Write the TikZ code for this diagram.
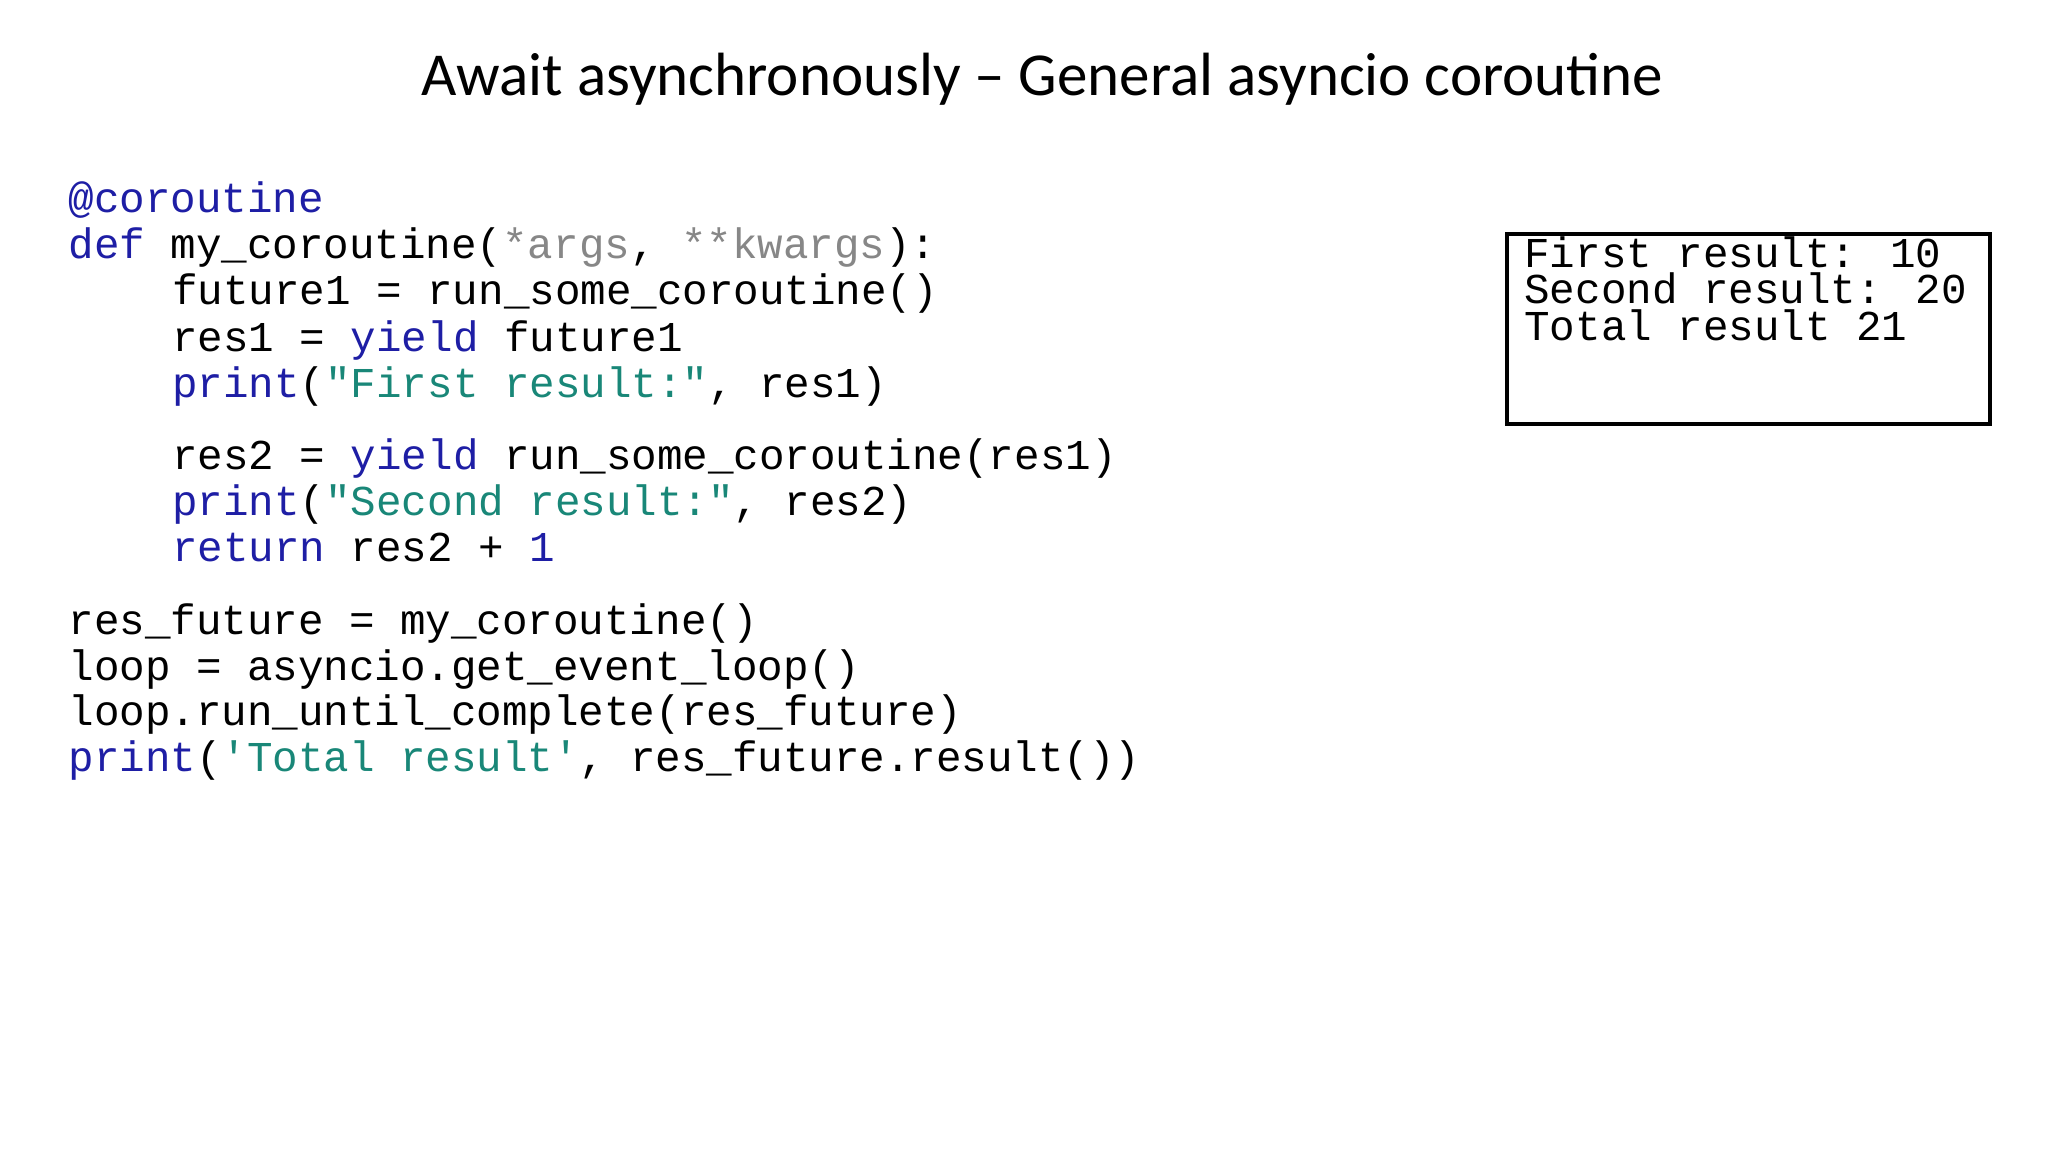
\documentclass[tikz,border=0pt]{standalone}
\usepackage{fontspec}
\setmainfont{Carlito}
\newfontfamily\cf{Liberation Mono}
\definecolor{kwc}{RGB}{30,30,165}
\definecolor{stc}{RGB}{25,135,120}
\definecolor{grc}{RGB}{135,135,135}
\newcommand{\Kw}[1]{\textcolor{kwc}{#1}}
\newcommand{\Str}[1]{\textcolor{stc}{#1}}
\newcommand{\Gr}[1]{\textcolor{grc}{#1}}
\tikzset{code/.style={anchor=base west,inner sep=0pt,font=\cf\fontsize{32.4}{35}\selectfont,text=black}}
\begin{document}
\begin{tikzpicture}[x=1pt,y=-1pt]
\useasboundingbox[fill=white] (0,0) rectangle (1560,877.5);
\node[font=\fontsize{46.5}{50}\selectfont] (title) at (794,60) {Await asynchronously -- General asyncio coroutine};
\node[code] (l1) at (52,162) {\Kw{@coroutine}};
\node[code] (l2) at (52,197) {\Kw{def} my\_coroutine(\Gr{*args}, \Gr{**kwargs}):};
\node[code] (l3) at (131,232) {future1 = run\_some\_coroutine()};
\node[code] (l4) at (131,268) {res1 = \Kw{yield} future1};
\node[code] (l5) at (131,303) {\Kw{print}(\Str{"First result:"}, res1)};
\node[code] (l6) at (131,358) {res2 = \Kw{yield} run\_some\_coroutine(res1)};
\node[code] (l7) at (131,393) {\Kw{print}(\Str{"Second result:"}, res2)};
\node[code] (l8) at (131,428) {\Kw{return} res2 + \Kw{1}};
\node[code] (l9) at (52,483) {res\_future = my\_coroutine()};
\node[code] (l10) at (52,518) {loop = asyncio.get\_event\_loop()};
\node[code] (l11) at (52,553) {loop.run\_until\_complete(res\_future)};
\node[code] (l12) at (52,588) {\Kw{print}(\Str{'Total result'}, res\_future.result())};
\draw[line width=3pt] (1148,178) rectangle (1516,323);
\node[code] (o1) at (1161,204) {First result: 10};
\node[code] (o2) at (1161,231.5) {Second result: 20};
\node[code] (o3) at (1161,259) {Total result 21};
\end{tikzpicture}
\end{document}
